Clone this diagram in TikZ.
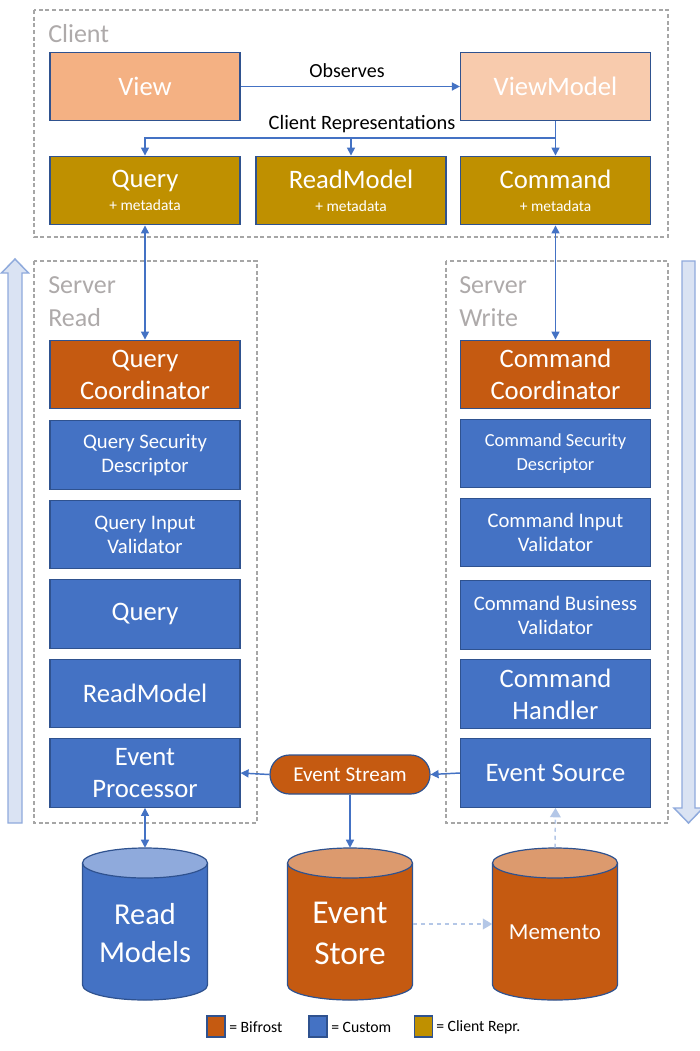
\documentclass[tikz,border=0pt]{standalone}
\usepackage{fontspec}
\setmainfont{Carlito}
\usetikzlibrary{arrows.meta}
\definecolor{cblue}{HTML}{4472C4}
\definecolor{bdr}{HTML}{2F528F}
\definecolor{corange}{HTML}{C55A11}
\definecolor{cgold}{HTML}{BF9000}
\definecolor{viewc}{HTML}{F4B183}
\definecolor{vmc}{HTML}{F8CBAD}
\definecolor{lgray}{HTML}{AEAAAA}
\definecolor{dgray}{HTML}{A6A6A6}
\definecolor{topblue}{HTML}{8FAADC}
\definecolor{toporange}{HTML}{DC9A6E}
\definecolor{afill}{HTML}{DAE3F3}
\definecolor{aline}{HTML}{8FAADC}
\definecolor{lblue}{HTML}{B4C7E7}
\newcommand\dbcyl[4]{% cx, body, top, name
  \path[fill=#2, draw=bdr, line width=0.9pt] (#1-62.5,863) -- (#1-62.5,985)
     arc[start angle=180, end angle=0, x radius=62.5, y radius=15] -- (#1+62.5,863);
  \path[fill=#3, draw=bdr, line width=0.9pt] (#1,863) ellipse[x radius=62.5, y radius=15];
  \node[minimum width=93.75pt, minimum height=114pt, inner sep=0pt] (#4) at (#1,924) {};
}
\begin{document}
\begin{tikzpicture}[x=0.75pt,y=-0.75pt,
  box/.style={draw=bdr, line width=0.9pt, minimum width=142.5pt, minimum height=51.5pt, inner sep=0pt, text=white, align=center},
  big/.style={font=\fontsize{20}{24}\selectfont},
  mid/.style={font=\fontsize{15.5}{18}\selectfont},
  arr/.style={draw=cblue, line width=1.1pt, -{Triangle[length=6pt,width=6pt]}},
  darr/.style={draw=cblue, line width=1.1pt, {Triangle[length=6pt,width=6pt]}-{Triangle[length=6pt,width=6pt]}},
  lightarr/.style={draw=lblue, line width=1.1pt, dashed, -{Triangle[length=7pt,width=8pt]}},
  frame/.style={draw=dgray, dash pattern=on 3pt off 2pt, line width=1.1pt},
  grouplabel/.style={text=lgray, anchor=west, align=left, font=\fontsize{19.5}{24.75}\selectfont, inner sep=0pt},
  bigarrow/.style={fill=afill, draw=aline, line width=1.1pt},
  cyltext/.style={text=white, align=center, inner sep=0pt},
  legbox/.style={draw=bdr, line width=0.9pt, minimum width=13.5pt, minimum height=15.75pt, inner sep=0pt},
  legtext/.style={anchor=west, inner sep=0pt, font=\fontsize{11.8}{14}\selectfont},
]
\useasboundingbox (0,0) rectangle (700,1051);
\fill[white] (0,0) rectangle (700,1051);

% frames
\draw[frame] (34,10) rectangle (668,237);
\draw[frame] (34,261) rectangle (257,823);
\draw[frame] (446,261) rectangle (668,823);

% big arrows
\draw[bigarrow] (8,823) -- (8,273) -- (1.5,273) -- (15,259) -- (28.5,273) -- (22,273) -- (22,823) -- cycle;
\draw[bigarrow] (682,261) -- (682,808) -- (674,808) -- (688.5,823) -- (703,808) -- (695,808) -- (695,261) -- cycle;

% group labels
\node[grouplabel] (lclient) at (48,34) {Client};
\node[grouplabel] (lread) at (48,301.5) {Server\\Read};
\node[grouplabel] (lwrite) at (459,301.5) {Server\\Write};

% client
\node[box, fill=viewc, big] (view) at (145,86.5) {View};
\node[box, fill=vmc, big] (viewmodel) at (555.5,86.5) {ViewModel};
\node[box, fill=cgold] (cq) at (145,190.5) {{\fontsize{20}{24}\selectfont Query}\\[5pt]{\fontsize{11.6}{14}\selectfont + metadata}};
\node[box, fill=cgold] (crm) at (351,190.5) {{\fontsize{20}{24}\selectfont ReadModel}\\[5pt]{\fontsize{11.6}{14}\selectfont + metadata}};
\node[box, fill=cgold] (ccmd) at (555.5,190.5) {{\fontsize{20}{24}\selectfont Command}\\[5pt]{\fontsize{11.6}{14}\selectfont + metadata}};

\node[font=\fontsize{15}{18}\selectfont, inner sep=0pt] (obs) at (347,71) {Observes};
\node[font=\fontsize{15.3}{18}\selectfont, inner sep=0pt] (crep) at (362,124) {Client Representations};

% server read
\node[box, fill=corange, big] (qc) at (145,374.5) {Query\\Coordinator};
\node[box, fill=cblue, mid] (qsd) at (145,455) {Query Security\\Descriptor};
\node[box, fill=cblue, mid] (qiv) at (145,534.5) {Query Input\\Validator};
\node[box, fill=cblue, big] (qq) at (145,614) {Query};
\node[box, fill=cblue, big] (qrm) at (145,693.5) {ReadModel};
\node[box, fill=cblue, big] (ep) at (145,773) {Event\\Processor};

% server write
\node[box, fill=corange, big] (cc) at (555.5,374.5) {Command\\Coordinator};
\node[box, fill=cblue, font=\fontsize{13.8}{18}\selectfont] (csd) at (555.5,453.5) {Command Security\\Descriptor};
\node[box, fill=cblue, mid] (civ) at (555.5,532.5) {Command Input\\Validator};
\node[box, fill=cblue, mid] (cbv) at (555.5,615) {Command Business\\Validator};
\node[box, fill=cblue, big] (ch) at (555.5,694) {Command\\Handler};
\node[box, fill=cblue, big] (esrc) at (555.5,773) {Event Source};

% event stream
\node[draw=bdr, fill=corange, rounded corners=14.6pt, minimum width=120pt, minimum height=29.25pt, inner sep=0pt, text=white, font=\fontsize{15.8}{19}\selectfont, line width=0.9pt] (estream) at (350,774.5) {Event Stream};

% cylinders
\dbcyl{145}{cblue}{topblue}{readdb}
\dbcyl{350}{corange}{toporange}{estore}
\dbcyl{555}{corange}{toporange}{memento}
\node[cyltext, font=\fontsize{22.8}{28.5}\selectfont] (readdbt) at (145,933) {Read\\Models};
\node[cyltext, font=\fontsize{25}{30.75}\selectfont] (estoret) at (350,933) {Event\\Store};
\node[cyltext, font=\fontsize{17.2}{20}\selectfont] (mementot) at (555,932) {Memento};

% connectors
\draw[arr] (view) -- (viewmodel);
\coordinate (fork) at (viewmodel.south |- 0,138);
\draw[arr] (viewmodel.south) -- (ccmd.north);
\draw[arr] (fork) -| (cq.north);
\draw[arr] (fork) -| (crm.north);
\draw[darr] (cq.south) -- (qc.north);
\draw[darr] (ccmd.south) -- (cc.north);
\draw[arr] (esrc.west) -- (estream.east);
\draw[arr] (estream.west) -- (ep.east);
\draw[arr] (estream.south) -- (estore.north);
\draw[darr] (ep.south) -- (readdb.north);
\draw[lightarr] (estore.east) -- (memento.west);
\draw[lightarr] (memento.north) -- (esrc.south);

% legend
\node[legbox, fill=corange] (lg1) at (216,1026.5) {};
\node[legtext] (lg1t) at (229,1027) {= Bifrost};
\node[legbox, fill=cblue] (lg2) at (318,1026.5) {};
\node[legtext] (lg2t) at (331,1027) {= Custom};
\node[legbox, fill=cgold] (lg3) at (423.5,1026.5) {};
\node[legtext] (lg3t) at (436,1027) {= Client Repr.};
\end{tikzpicture}
\end{document}
